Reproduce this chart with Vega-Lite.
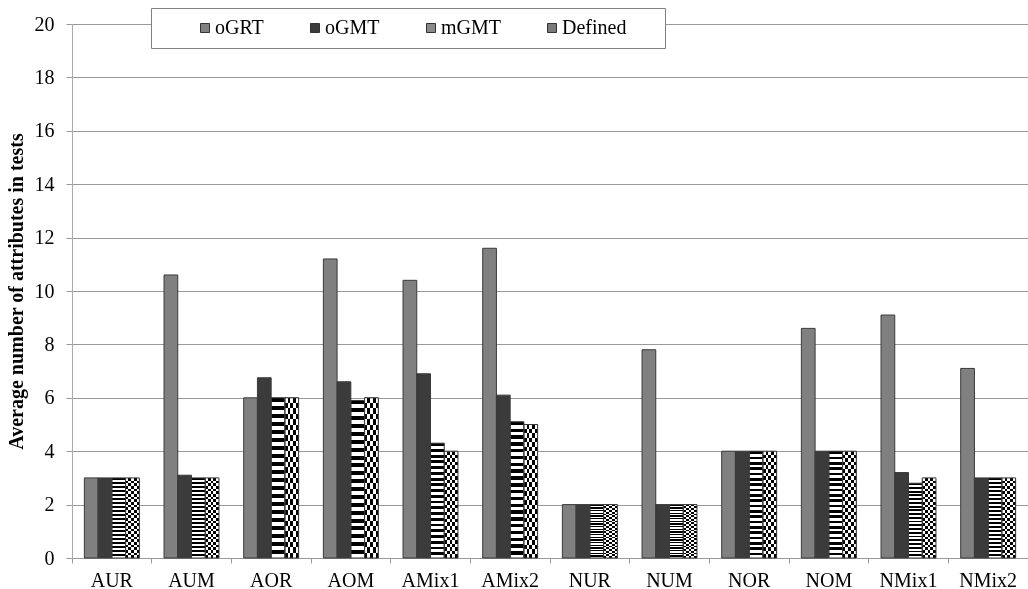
{
  "$schema": "https://vega.github.io/schema/vega-lite/v6.json",
  "width": 956,
  "height": 534,
  "autosize": "none",
  "padding": {"left": 72, "top": 24, "right": 0, "bottom": 31},
  "background": "white",
  "config": {"view": {"stroke": null}, "font": "Liberation Serif"},
  "data": {"values": [
    {"cat": "AUR", "series": "oGRT", "value": 3}, {"cat": "AUR", "series": "oGMT", "value": 3}, {"cat": "AUR", "series": "mGMT", "value": 3}, {"cat": "AUR", "series": "Defined", "value": 3},
    {"cat": "AUM", "series": "oGRT", "value": 10.6}, {"cat": "AUM", "series": "oGMT", "value": 3.1}, {"cat": "AUM", "series": "mGMT", "value": 3}, {"cat": "AUM", "series": "Defined", "value": 3},
    {"cat": "AOR", "series": "oGRT", "value": 6}, {"cat": "AOR", "series": "oGMT", "value": 6.75}, {"cat": "AOR", "series": "mGMT", "value": 6}, {"cat": "AOR", "series": "Defined", "value": 6},
    {"cat": "AOM", "series": "oGRT", "value": 11.2}, {"cat": "AOM", "series": "oGMT", "value": 6.6}, {"cat": "AOM", "series": "mGMT", "value": 5.9}, {"cat": "AOM", "series": "Defined", "value": 6},
    {"cat": "AMix1", "series": "oGRT", "value": 10.4}, {"cat": "AMix1", "series": "oGMT", "value": 6.9}, {"cat": "AMix1", "series": "mGMT", "value": 4.3}, {"cat": "AMix1", "series": "Defined", "value": 4},
    {"cat": "AMix2", "series": "oGRT", "value": 11.6}, {"cat": "AMix2", "series": "oGMT", "value": 6.1}, {"cat": "AMix2", "series": "mGMT", "value": 5.1}, {"cat": "AMix2", "series": "Defined", "value": 5},
    {"cat": "NUR", "series": "oGRT", "value": 2}, {"cat": "NUR", "series": "oGMT", "value": 2}, {"cat": "NUR", "series": "mGMT", "value": 2}, {"cat": "NUR", "series": "Defined", "value": 2},
    {"cat": "NUM", "series": "oGRT", "value": 7.8}, {"cat": "NUM", "series": "oGMT", "value": 2}, {"cat": "NUM", "series": "mGMT", "value": 2}, {"cat": "NUM", "series": "Defined", "value": 2},
    {"cat": "NOR", "series": "oGRT", "value": 4}, {"cat": "NOR", "series": "oGMT", "value": 4}, {"cat": "NOR", "series": "mGMT", "value": 4}, {"cat": "NOR", "series": "Defined", "value": 4},
    {"cat": "NOM", "series": "oGRT", "value": 8.6}, {"cat": "NOM", "series": "oGMT", "value": 4}, {"cat": "NOM", "series": "mGMT", "value": 4}, {"cat": "NOM", "series": "Defined", "value": 4},
    {"cat": "NMix1", "series": "oGRT", "value": 9.1}, {"cat": "NMix1", "series": "oGMT", "value": 3.2}, {"cat": "NMix1", "series": "mGMT", "value": 2.8}, {"cat": "NMix1", "series": "Defined", "value": 3},
    {"cat": "NMix2", "series": "oGRT", "value": 7.1}, {"cat": "NMix2", "series": "oGMT", "value": 3}, {"cat": "NMix2", "series": "mGMT", "value": 3}, {"cat": "NMix2", "series": "Defined", "value": 3}
  ]},
  "encoding": {
    "x": {
      "field": "cat", "type": "nominal",
      "scale": {"domain": ["AUR","AUM","AOR","AOM","AMix1","AMix2","NUR","NUM","NOR","NOM","NMix1","NMix2"], "paddingInner": 0, "paddingOuter": 0},
      "axis": {"title": null, "labelAngle": 0, "labelFont": "Liberation Serif", "labelFontSize": 20, "labelColor": "#000", "labelPadding": 7, "bandPosition": 0, "tickSize": 5, "tickColor": "#999", "domainColor": "#999", "grid": false}
    },
    "xOffset": {
      "field": "series", "type": "nominal",
      "scale": {"domain": ["oGRT","oGMT","mGMT","Defined"], "paddingInner": 0, "paddingOuter": 0.9}
    },
    "y": {
      "field": "value", "type": "quantitative",
      "scale": {"domain": [0, 20], "nice": false},
      "axis": {"title": "Average number of attributes in tests", "titleFont": "Liberation Serif", "titleFontSize": 20, "titleFontWeight": "bold", "titleColor": "#000", "titlePadding": 8,
        "values": [0,2,4,6,8,10,12,14,16,18,20], "labelFont": "Liberation Serif", "labelFontSize": 20, "labelColor": "#000", "labelPadding": 12,
        "tickSize": 6, "tickColor": "#999", "domainColor": "#aaa", "grid": true, "gridColor": "#999"}
    }
  },
  "layer": [
    {
      "mark": {"type": "bar"},
      "encoding": {
        "color": {
          "field": "series", "type": "nominal",
          "scale": {"domain": ["oGRT","oGMT","mGMT","Defined"], "range": ["#808080","#3b3b3b","#8a8a8a","#7a7a7a"]},
          "legend": {
            "orient": "none", "legendX": 79, "legendY": -16, "direction": "horizontal",
            "padding": 10, "fillColor": "white", "strokeColor": "#808080",
            "symbolType": "square", "symbolSize": 81, "symbolStrokeColor": "#333", "symbolStrokeWidth": 1,
            "labelFont": "Liberation Serif", "labelFontSize": 20, "labelColor": "#000", "labelOffset": 0,
            "columnPadding": 41,
            "title": "\u00a0", "titleOrient": "left", "titlePadding": 34, "titleFontSize": 20,
            "labelExpr": "datum.label == 'Defined' ? 'Defined\u2003\u2009\u2009\u200b' : datum.label"
          }
        }
      }
    },
    {
      "transform": [{"filter": "datum.series == 'mGMT'"}],
      "mark": {"type": "bar", "fill": {"gradient": "linear", "x1": 0, "y1": 0, "x2": 0, "y2": 1, "stops": [
        {"offset": 0, "color": "#000"}, {"offset": 0.025, "color": "#000"}, {"offset": 0.025, "color": "#fff"}, {"offset": 0.05, "color": "#fff"},
        {"offset": 0.05, "color": "#000"}, {"offset": 0.075, "color": "#000"}, {"offset": 0.075, "color": "#fff"}, {"offset": 0.1, "color": "#fff"},
        {"offset": 0.1, "color": "#000"}, {"offset": 0.125, "color": "#000"}, {"offset": 0.125, "color": "#fff"}, {"offset": 0.15, "color": "#fff"},
        {"offset": 0.15, "color": "#000"}, {"offset": 0.175, "color": "#000"}, {"offset": 0.175, "color": "#fff"}, {"offset": 0.2, "color": "#fff"},
        {"offset": 0.2, "color": "#000"}, {"offset": 0.225, "color": "#000"}, {"offset": 0.225, "color": "#fff"}, {"offset": 0.25, "color": "#fff"},
        {"offset": 0.25, "color": "#000"}, {"offset": 0.275, "color": "#000"}, {"offset": 0.275, "color": "#fff"}, {"offset": 0.3, "color": "#fff"},
        {"offset": 0.3, "color": "#000"}, {"offset": 0.325, "color": "#000"}, {"offset": 0.325, "color": "#fff"}, {"offset": 0.35, "color": "#fff"},
        {"offset": 0.35, "color": "#000"}, {"offset": 0.375, "color": "#000"}, {"offset": 0.375, "color": "#fff"}, {"offset": 0.4, "color": "#fff"},
        {"offset": 0.4, "color": "#000"}, {"offset": 0.425, "color": "#000"}, {"offset": 0.425, "color": "#fff"}, {"offset": 0.45, "color": "#fff"},
        {"offset": 0.45, "color": "#000"}, {"offset": 0.475, "color": "#000"}, {"offset": 0.475, "color": "#fff"}, {"offset": 0.5, "color": "#fff"},
        {"offset": 0.5, "color": "#000"}, {"offset": 0.525, "color": "#000"}, {"offset": 0.525, "color": "#fff"}, {"offset": 0.55, "color": "#fff"},
        {"offset": 0.55, "color": "#000"}, {"offset": 0.575, "color": "#000"}, {"offset": 0.575, "color": "#fff"}, {"offset": 0.6, "color": "#fff"},
        {"offset": 0.6, "color": "#000"}, {"offset": 0.625, "color": "#000"}, {"offset": 0.625, "color": "#fff"}, {"offset": 0.65, "color": "#fff"},
        {"offset": 0.65, "color": "#000"}, {"offset": 0.675, "color": "#000"}, {"offset": 0.675, "color": "#fff"}, {"offset": 0.7, "color": "#fff"},
        {"offset": 0.7, "color": "#000"}, {"offset": 0.725, "color": "#000"}, {"offset": 0.725, "color": "#fff"}, {"offset": 0.75, "color": "#fff"},
        {"offset": 0.75, "color": "#000"}, {"offset": 0.775, "color": "#000"}, {"offset": 0.775, "color": "#fff"}, {"offset": 0.8, "color": "#fff"},
        {"offset": 0.8, "color": "#000"}, {"offset": 0.825, "color": "#000"}, {"offset": 0.825, "color": "#fff"}, {"offset": 0.85, "color": "#fff"},
        {"offset": 0.85, "color": "#000"}, {"offset": 0.875, "color": "#000"}, {"offset": 0.875, "color": "#fff"}, {"offset": 0.9, "color": "#fff"},
        {"offset": 0.9, "color": "#000"}, {"offset": 0.925, "color": "#000"}, {"offset": 0.925, "color": "#fff"}, {"offset": 0.95, "color": "#fff"},
        {"offset": 0.95, "color": "#000"}, {"offset": 0.975, "color": "#000"}, {"offset": 0.975, "color": "#fff"}, {"offset": 1, "color": "#fff"}
      ]}}
    },
    {
      "transform": [{"filter": "datum.series == 'Defined'"}],
      "mark": {"type": "bar", "fill": {"gradient": "linear", "x1": 0, "y1": 0, "x2": 1, "y2": 0, "stops": [
        {"offset": 0, "color": "#000"}, {"offset": 0.2, "color": "#000"}, {"offset": 0.2, "color": "#fff"}, {"offset": 0.4, "color": "#fff"},
        {"offset": 0.4, "color": "#000"}, {"offset": 0.6, "color": "#000"}, {"offset": 0.6, "color": "#fff"}, {"offset": 0.8, "color": "#fff"},
        {"offset": 0.8, "color": "#000"}, {"offset": 1, "color": "#000"}
      ]}}
    },
    {
      "transform": [{"filter": "datum.series == 'Defined'"}],
      "mark": {"type": "bar", "blend": "difference", "fill": {"gradient": "linear", "x1": 0, "y1": 0, "x2": 0, "y2": 1, "stops": [
        {"offset": 0, "color": "#fff"}, {"offset": 0.033333, "color": "#fff"}, {"offset": 0.033333, "color": "rgba(255,255,255,0)"}, {"offset": 0.066667, "color": "rgba(255,255,255,0)"},
        {"offset": 0.066667, "color": "#fff"}, {"offset": 0.1, "color": "#fff"}, {"offset": 0.1, "color": "rgba(255,255,255,0)"}, {"offset": 0.133333, "color": "rgba(255,255,255,0)"},
        {"offset": 0.133333, "color": "#fff"}, {"offset": 0.166667, "color": "#fff"}, {"offset": 0.166667, "color": "rgba(255,255,255,0)"}, {"offset": 0.2, "color": "rgba(255,255,255,0)"},
        {"offset": 0.2, "color": "#fff"}, {"offset": 0.233333, "color": "#fff"}, {"offset": 0.233333, "color": "rgba(255,255,255,0)"}, {"offset": 0.266667, "color": "rgba(255,255,255,0)"},
        {"offset": 0.266667, "color": "#fff"}, {"offset": 0.3, "color": "#fff"}, {"offset": 0.3, "color": "rgba(255,255,255,0)"}, {"offset": 0.333333, "color": "rgba(255,255,255,0)"},
        {"offset": 0.333333, "color": "#fff"}, {"offset": 0.366667, "color": "#fff"}, {"offset": 0.366667, "color": "rgba(255,255,255,0)"}, {"offset": 0.4, "color": "rgba(255,255,255,0)"},
        {"offset": 0.4, "color": "#fff"}, {"offset": 0.433333, "color": "#fff"}, {"offset": 0.433333, "color": "rgba(255,255,255,0)"}, {"offset": 0.466667, "color": "rgba(255,255,255,0)"},
        {"offset": 0.466667, "color": "#fff"}, {"offset": 0.5, "color": "#fff"}, {"offset": 0.5, "color": "rgba(255,255,255,0)"}, {"offset": 0.533333, "color": "rgba(255,255,255,0)"},
        {"offset": 0.533333, "color": "#fff"}, {"offset": 0.566667, "color": "#fff"}, {"offset": 0.566667, "color": "rgba(255,255,255,0)"}, {"offset": 0.6, "color": "rgba(255,255,255,0)"},
        {"offset": 0.6, "color": "#fff"}, {"offset": 0.633333, "color": "#fff"}, {"offset": 0.633333, "color": "rgba(255,255,255,0)"}, {"offset": 0.666667, "color": "rgba(255,255,255,0)"},
        {"offset": 0.666667, "color": "#fff"}, {"offset": 0.7, "color": "#fff"}, {"offset": 0.7, "color": "rgba(255,255,255,0)"}, {"offset": 0.733333, "color": "rgba(255,255,255,0)"},
        {"offset": 0.733333, "color": "#fff"}, {"offset": 0.766667, "color": "#fff"}, {"offset": 0.766667, "color": "rgba(255,255,255,0)"}, {"offset": 0.8, "color": "rgba(255,255,255,0)"},
        {"offset": 0.8, "color": "#fff"}, {"offset": 0.833333, "color": "#fff"}, {"offset": 0.833333, "color": "rgba(255,255,255,0)"}, {"offset": 0.866667, "color": "rgba(255,255,255,0)"},
        {"offset": 0.866667, "color": "#fff"}, {"offset": 0.9, "color": "#fff"}, {"offset": 0.9, "color": "rgba(255,255,255,0)"}, {"offset": 0.933333, "color": "rgba(255,255,255,0)"},
        {"offset": 0.933333, "color": "#fff"}, {"offset": 0.966667, "color": "#fff"}, {"offset": 0.966667, "color": "rgba(255,255,255,0)"}, {"offset": 1, "color": "rgba(255,255,255,0)"}
      ]}}
    },
    {
      "mark": {"type": "bar", "fill": "#fff", "fillOpacity": 0, "stroke": "#3a3a3a", "strokeWidth": 1}
    }
  ]
}
